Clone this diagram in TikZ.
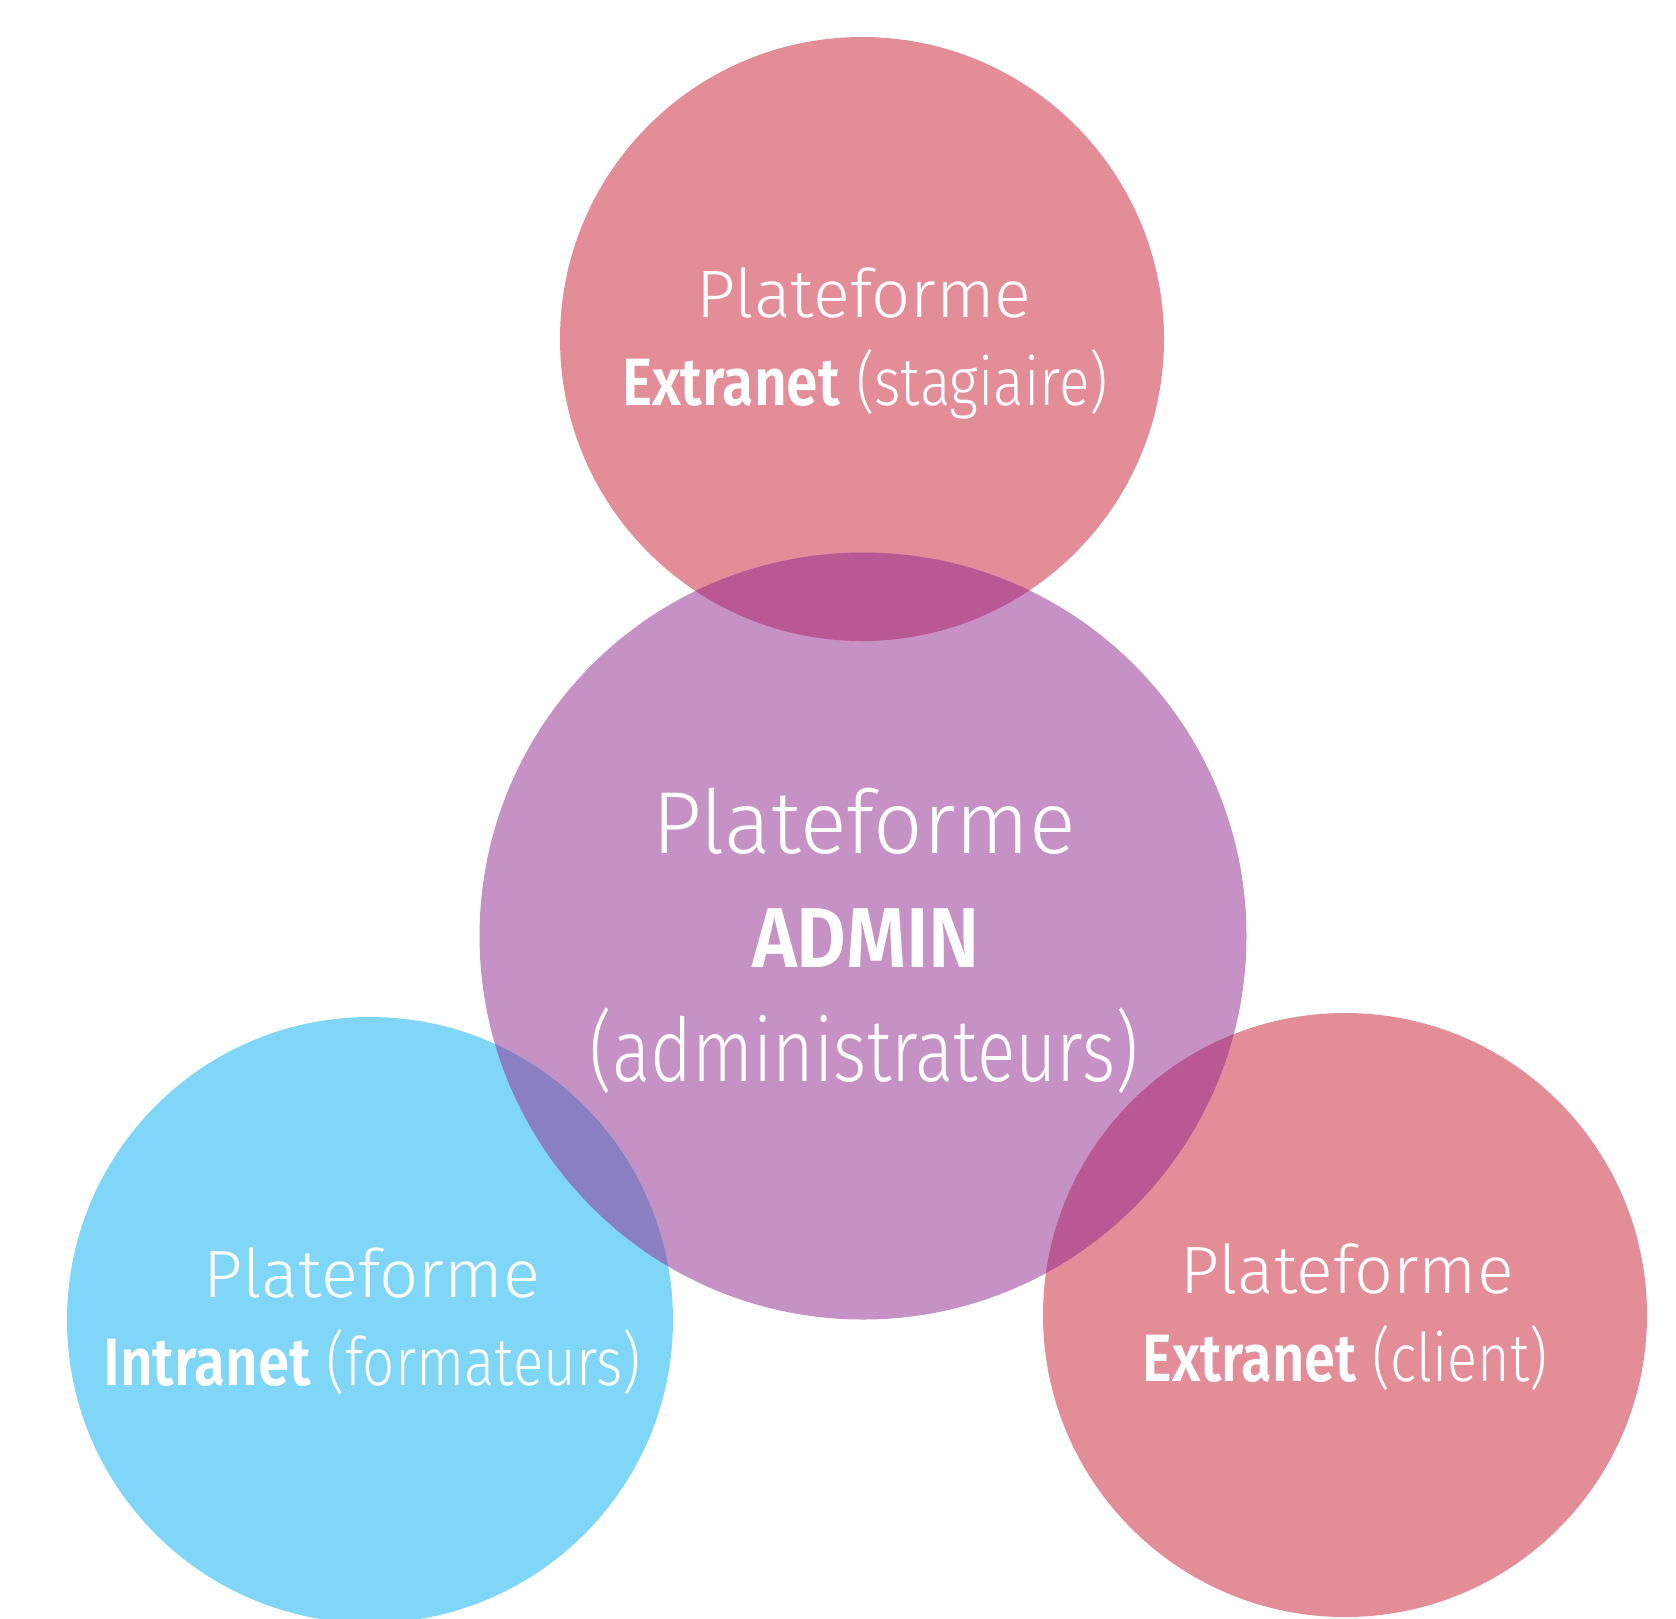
\documentclass[tikz,border=0pt]{standalone}
\usepackage{fontspec}
\setmainfont{Fira Sans}[UprightFont=* Light, BoldFont=* SemiBold]
\definecolor{pinkc}{HTML}{E38D99}
\definecolor{purplec}{HTML}{C691C5}
\definecolor{bluec}{HTML}{80D6F6}
\definecolor{lenspink}{HTML}{B95893}
\definecolor{lensblue}{HTML}{8A80C1}
\begin{document}
\begin{tikzpicture}[x=1pt,y=-1pt,
  disc/.style={circle, inner sep=0pt, minimum size=#1},
  lbl/.style={text=white, anchor=base, inner sep=0pt},
  small/.style={font=\fontsize{67}{80}\selectfont},
  big/.style={font=\fontsize{88}{104}\selectfont}]
\useasboundingbox (0,0) rectangle (1676,1618);
\clip (0,0) rectangle (1676,1618);
\node[disc=604pt, fill=pinkc] (top) at (862,339) {};
\node[disc=767pt, fill=purplec] (admin) at (863,936) {};
\node[disc=606pt, fill=bluec] (left) at (370,1320) {};
\node[disc=604pt, fill=pinkc] (right) at (1345,1315) {};
\begin{scope}
  \clip (top.center) circle[radius=302];
  \fill[lenspink] (admin.center) circle[radius=383.5];
\end{scope}
\begin{scope}
  \clip (right.center) circle[radius=302];
  \fill[lenspink] (admin.center) circle[radius=383.5];
\end{scope}
\begin{scope}
  \clip (left.center) circle[radius=303];
  \fill[lensblue] (admin.center) circle[radius=383.5];
\end{scope}
% labels
\node[lbl, small] (t1) at (864,317) {\resizebox{335pt}{\height}{Plateforme}};
\node[lbl, small] (t2) at (865,405) {\resizebox{486pt}{\height}{\textbf{Extranet} (stagiaire)}};
\node[lbl, big] (a1) at (864,853) {\resizebox{424pt}{\height}{Plateforme}};
\node[lbl, font=\fontsize{85}{100}\selectfont] (a2) at (866,967) {\resizebox{228pt}{\height}{\textbf{ADMIN}}};
\node[lbl, big] (a3) at (864,1081) {\resizebox{549pt}{\height}{(administrateurs)}};
\node[lbl, small] (l1) at (372,1297) {\resizebox{336pt}{\height}{Plateforme}};
\node[lbl, small] (l2) at (372,1385) {\resizebox{537pt}{\height}{\textbf{Intranet} (formateurs)}};
\node[lbl, small] (r1) at (1347,1293) {\resizebox{333pt}{\height}{Plateforme}};
\node[lbl, small] (r2) at (1345,1381) {\resizebox{405pt}{\height}{\textbf{Extranet} (client)}};
\end{tikzpicture}
\end{document}
